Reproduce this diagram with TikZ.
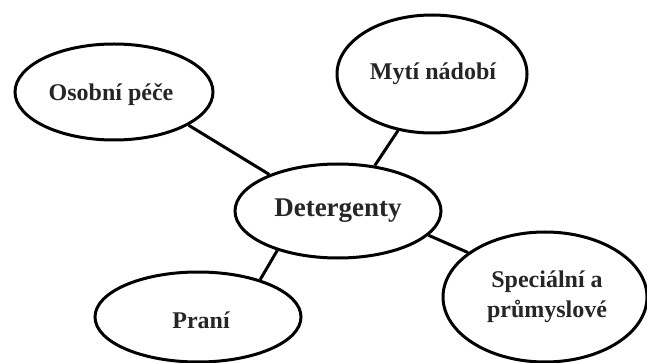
\documentclass[tikz,border=0pt]{standalone}
\usepackage{fontspec}
\setmainfont{Liberation Serif}
\usetikzlibrary{shapes.geometric}
\begin{document}
\begin{tikzpicture}[x=1pt,y=-1pt,
  bubble/.style={ellipse,draw=black,line width=3pt,inner sep=0pt,fill=white,
    font=\bfseries\fontsize{24}{30}\selectfont,align=center,text=black!85},
  link/.style={line width=3pt,black}]
\useasboundingbox (0,0) rectangle (647,363);
\fill[white] (0,0) rectangle (647,363);
\node[bubble,minimum width=198pt,minimum height=96pt] (osob) at (114,92) {};
\node[bubble,minimum width=190pt,minimum height=118pt] (myti) at (432,74) {};
\node[bubble,minimum width=206pt,minimum height=94pt] (det) at (338,211) {};
\node[bubble,minimum width=206pt,minimum height=90pt] (prani) at (198,317) {};
\node[bubble,minimum width=204pt,minimum height=130pt] (spec) at (545,297) {};
\node[font=\bfseries\fontsize{24}{30}\selectfont,text=black!85] (tosob) at (111,95) {Osobní péče};
\node[font=\bfseries\fontsize{24}{30}\selectfont,text=black!85] (tmyti) at (433,74) {Mytí nádobí};
\node[font=\bfseries\fontsize{27}{30}\selectfont,text=black!85] (tdet) at (338,211) {Detergenty};
\node[font=\bfseries\fontsize{24}{30}\selectfont,text=black!85] (tprani) at (201,320) {Praní};
\node[font=\bfseries\fontsize{24}{30}\selectfont,text=black!85,align=center] (tspec) at (547,297) {Speciální a\\průmyslové};
\draw[link] (osob.-24) -- (det.152);
\draw[link] (myti.-121) -- (det.51);
\draw[link] (prani.31) -- (det.-147);
\draw[link] (spec.150) -- (det.-15);
\end{tikzpicture}
\end{document}
